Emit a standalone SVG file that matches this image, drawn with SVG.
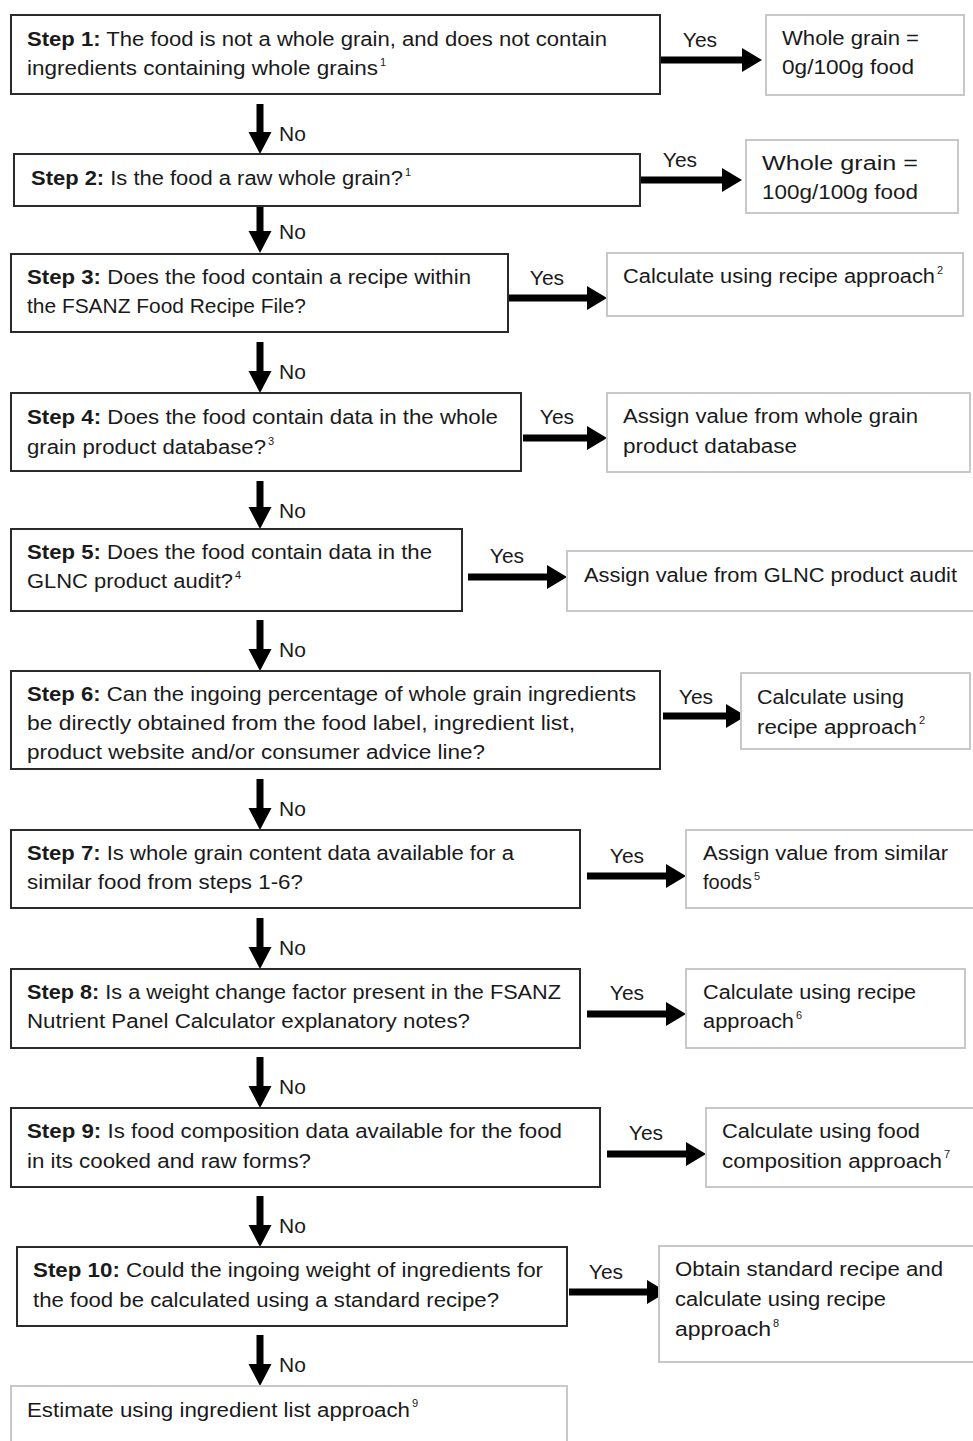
<svg xmlns="http://www.w3.org/2000/svg" width="973" height="1441" viewBox="0 0 973 1441">
<style>
.step{fill:#fff;stroke:#2a2a2a;stroke-width:2}
.res{fill:#fff;stroke:#c8c8c8;stroke-width:2}
text{font-family:"Liberation Sans",Arial,sans-serif;font-size:20px;fill:#1a1a1a}
.b{font-weight:bold}
.sup{font-size:11px}
.lbl{font-size:21px}
.arr{fill:#000}
</style>
<rect width="973" height="1441" fill="#fff"/>
<g id="connectors">
<path class="arr" d="M256.5,104h7V132h8L260,154L248.5,132h8Z"/>
<path class="arr" d="M256.5,206h7V231h8L260,253L248.5,231h8Z"/>
<path class="arr" d="M256.5,342h7V371h8L260,393L248.5,371h8Z"/>
<path class="arr" d="M256.5,481h7V507h8L260,529L248.5,507h8Z"/>
<path class="arr" d="M256.5,620h7V649h8L260,671L248.5,649h8Z"/>
<path class="arr" d="M256.5,779h7V808h8L260,830L248.5,808h8Z"/>
<path class="arr" d="M256.5,918h7V947h8L260,969L248.5,947h8Z"/>
<path class="arr" d="M256.5,1057h7V1086h8L260,1108L248.5,1086h8Z"/>
<path class="arr" d="M256.5,1196h7V1225h8L260,1247L248.5,1225h8Z"/>
<path class="arr" d="M256.5,1335h7V1364h8L260,1386L248.5,1364h8Z"/>
<text x="279" y="141" class="lbl">No</text>
<text x="279" y="239" class="lbl">No</text>
<text x="279" y="379" class="lbl">No</text>
<text x="279" y="518" class="lbl">No</text>
<text x="279" y="657" class="lbl">No</text>
<text x="279" y="816" class="lbl">No</text>
<text x="279" y="955" class="lbl">No</text>
<text x="279" y="1094" class="lbl">No</text>
<text x="279" y="1233" class="lbl">No</text>
<text x="279" y="1372" class="lbl">No</text>
<path class="arr" d="M660,56.5H742V48L762,60L742,72V63.5H660Z"/>
<path class="arr" d="M641,176.5H722V168L742,180L722,192V183.5H641Z"/>
<path class="arr" d="M509,294.5H587V286L607,298L587,310V301.5H509Z"/>
<path class="arr" d="M523,434.5H587V426L607,438L587,450V441.5H523Z"/>
<path class="arr" d="M468,573.5H547V565L567,577L547,589V580.5H468Z"/>
<path class="arr" d="M663,712.5H726V704L746,716L726,728V719.5H663Z"/>
<path class="arr" d="M587,872.5H666V864L686,876L666,888V879.5H587Z"/>
<path class="arr" d="M587,1010.5H666V1002L686,1014L666,1026V1017.5H587Z"/>
<path class="arr" d="M607,1150.5H686V1142L706,1154L686,1166V1157.5H607Z"/>
<path class="arr" d="M569,1288.5H647V1280L667,1292L647,1304V1295.5H569Z"/>
<text x="700" y="47" class="lbl" text-anchor="middle">Yes</text>
<text x="680" y="167" class="lbl" text-anchor="middle">Yes</text>
<text x="547" y="285" class="lbl" text-anchor="middle">Yes</text>
<text x="557" y="424" class="lbl" text-anchor="middle">Yes</text>
<text x="507" y="563" class="lbl" text-anchor="middle">Yes</text>
<text x="696" y="704" class="lbl" text-anchor="middle">Yes</text>
<text x="627" y="863" class="lbl" text-anchor="middle">Yes</text>
<text x="627" y="1000" class="lbl" text-anchor="middle">Yes</text>
<text x="646" y="1140" class="lbl" text-anchor="middle">Yes</text>
<text x="606" y="1279" class="lbl" text-anchor="middle">Yes</text>
</g>
<g id="step1">
<rect class="step" x="11" y="15" width="649" height="79"/>
<text x="27" y="46" textLength="580" lengthAdjust="spacingAndGlyphs"><tspan class="b">Step 1:</tspan> The food is not a whole grain, and does not contain</text>
<text x="27" y="75" textLength="351" lengthAdjust="spacingAndGlyphs">ingredients containing whole grains</text>
<text x="380" y="66" class="sup">1</text>
</g>
<g id="step2">
<rect class="step" x="14" y="154" width="626" height="52"/>
<text x="31" y="185" textLength="372" lengthAdjust="spacingAndGlyphs"><tspan class="b">Step 2:</tspan> Is the food a raw whole grain?</text>
<text x="405" y="176" class="sup">1</text>
</g>
<g id="step3">
<rect class="step" x="11" y="254" width="497" height="78"/>
<text x="27" y="284" textLength="444" lengthAdjust="spacingAndGlyphs"><tspan class="b">Step 3:</tspan> Does the food contain a recipe within</text>
<text x="27" y="313" textLength="279" lengthAdjust="spacingAndGlyphs">the FSANZ Food Recipe File?</text>
</g>
<g id="step4">
<rect class="step" x="11" y="393" width="510" height="78"/>
<text x="27" y="424" textLength="471" lengthAdjust="spacingAndGlyphs"><tspan class="b">Step 4:</tspan> Does the food contain data in the whole</text>
<text x="27" y="454" textLength="239" lengthAdjust="spacingAndGlyphs">grain product database?</text>
<text x="268" y="445" class="sup">3</text>
</g>
<g id="step5">
<rect class="step" x="11" y="529" width="451" height="82"/>
<text x="27" y="559" textLength="405" lengthAdjust="spacingAndGlyphs"><tspan class="b">Step 5:</tspan> Does the food contain data in the</text>
<text x="27" y="588" textLength="206" lengthAdjust="spacingAndGlyphs">GLNC product audit?</text>
<text x="235" y="579" class="sup">4</text>
</g>
<g id="step6">
<rect class="step" x="11" y="671" width="649" height="98"/>
<text x="27" y="701" textLength="609" lengthAdjust="spacingAndGlyphs"><tspan class="b">Step 6:</tspan> Can the ingoing percentage of whole grain ingredients</text>
<text x="27" y="730" textLength="548" lengthAdjust="spacingAndGlyphs">be directly obtained from the food label, ingredient list,</text>
<text x="27" y="759" textLength="458" lengthAdjust="spacingAndGlyphs">product website and/or consumer advice line?</text>
</g>
<g id="step7">
<rect class="step" x="11" y="830" width="569" height="78"/>
<text x="27" y="860" textLength="487" lengthAdjust="spacingAndGlyphs"><tspan class="b">Step 7:</tspan> Is whole grain content data available for a</text>
<text x="27" y="889" textLength="276" lengthAdjust="spacingAndGlyphs">similar food from steps 1-6?</text>
</g>
<g id="step8">
<rect class="step" x="11" y="969" width="569" height="79"/>
<text x="27" y="999" textLength="534" lengthAdjust="spacingAndGlyphs"><tspan class="b">Step 8:</tspan> Is a weight change factor present in the FSANZ</text>
<text x="27" y="1028" textLength="443" lengthAdjust="spacingAndGlyphs">Nutrient Panel Calculator explanatory notes?</text>
</g>
<g id="step9">
<rect class="step" x="11" y="1108" width="589" height="79"/>
<text x="27" y="1138" textLength="535" lengthAdjust="spacingAndGlyphs"><tspan class="b">Step 9:</tspan> Is food composition data available for the food</text>
<text x="27" y="1168" textLength="284" lengthAdjust="spacingAndGlyphs">in its cooked and raw forms?</text>
</g>
<g id="step10">
<rect class="step" x="17" y="1247" width="550" height="79"/>
<text x="33" y="1277" textLength="510" lengthAdjust="spacingAndGlyphs"><tspan class="b">Step 10:</tspan> Could the ingoing weight of ingredients for</text>
<text x="33" y="1307" textLength="466" lengthAdjust="spacingAndGlyphs">the food be calculated using a standard recipe?</text>
</g>
<g id="final">
<rect class="res" x="11" y="1386" width="556" height="70"/>
<text x="27" y="1417" textLength="383" lengthAdjust="spacingAndGlyphs">Estimate using ingredient list approach</text>
<text x="412" y="1407" class="sup">9</text>
</g>
<g id="res1">
<rect class="res" x="766" y="15" width="198" height="80"/>
<text x="782" y="45" textLength="137" lengthAdjust="spacingAndGlyphs">Whole grain =</text>
<text x="782" y="74" textLength="132" lengthAdjust="spacingAndGlyphs">0g/100g food</text>
</g>
<g id="res2">
<rect class="res" x="746" y="140" width="212" height="73"/>
<text x="762" y="170" textLength="156" lengthAdjust="spacingAndGlyphs">Whole grain =</text>
<text x="762" y="199" textLength="156" lengthAdjust="spacingAndGlyphs">100g/100g food</text>
</g>
<g id="res3">
<rect class="res" x="607" y="253" width="356" height="63"/>
<text x="623" y="283" textLength="312" lengthAdjust="spacingAndGlyphs">Calculate using recipe approach</text>
<text x="937" y="274" class="sup">2</text>
</g>
<g id="res4">
<rect class="res" x="607" y="393" width="363" height="79"/>
<text x="623" y="423" textLength="295" lengthAdjust="spacingAndGlyphs">Assign value from whole grain</text>
<text x="623" y="453" textLength="174" lengthAdjust="spacingAndGlyphs">product database</text>
</g>
<g id="res5">
<rect class="res" x="567" y="551" width="410" height="60"/>
<text x="584" y="582" textLength="373" lengthAdjust="spacingAndGlyphs">Assign value from GLNC product audit</text>
</g>
<g id="res6">
<rect class="res" x="741" y="673" width="229" height="76"/>
<text x="757" y="704" textLength="147" lengthAdjust="spacingAndGlyphs">Calculate using</text>
<text x="757" y="734" textLength="160" lengthAdjust="spacingAndGlyphs">recipe approach</text>
<text x="919" y="724" class="sup">2</text>
</g>
<g id="res7">
<rect class="res" x="686" y="830" width="291" height="78"/>
<text x="703" y="860" textLength="245" lengthAdjust="spacingAndGlyphs">Assign value from similar</text>
<text x="703" y="889" textLength="49" lengthAdjust="spacingAndGlyphs">foods</text>
<text x="754" y="880" class="sup">5</text>
</g>
<g id="res8">
<rect class="res" x="686" y="969" width="279" height="79"/>
<text x="703" y="999" textLength="213" lengthAdjust="spacingAndGlyphs">Calculate using recipe</text>
<text x="703" y="1028" textLength="91" lengthAdjust="spacingAndGlyphs">approach</text>
<text x="796" y="1019" class="sup">6</text>
</g>
<g id="res9">
<rect class="res" x="706" y="1108" width="271" height="79"/>
<text x="722" y="1138" textLength="198" lengthAdjust="spacingAndGlyphs">Calculate using food</text>
<text x="722" y="1168" textLength="220" lengthAdjust="spacingAndGlyphs">composition approach</text>
<text x="944" y="1158" class="sup">7</text>
</g>
<g id="res10">
<rect class="res" x="659" y="1246" width="318" height="116"/>
<text x="675" y="1276" textLength="268" lengthAdjust="spacingAndGlyphs">Obtain standard recipe and</text>
<text x="675" y="1306" textLength="211" lengthAdjust="spacingAndGlyphs">calculate using recipe</text>
<text x="675" y="1336" textLength="96" lengthAdjust="spacingAndGlyphs">approach</text>
<text x="773" y="1327" class="sup">8</text>
</g>
</svg>
